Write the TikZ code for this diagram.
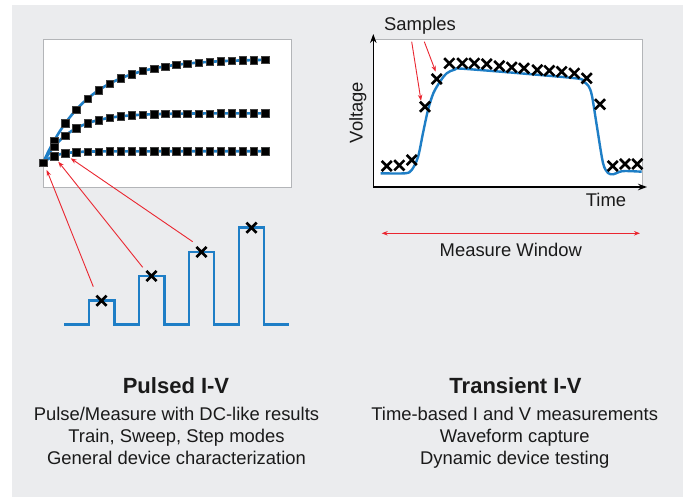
\documentclass[tikz,border=0pt]{standalone}
\usepackage{fontspec}
\setmainfont{Liberation Sans}
\usetikzlibrary{arrows.meta,shapes.misc}
\definecolor{panel}{HTML}{EBECEE}
\definecolor{frame}{HTML}{B3B5B8}
\definecolor{trace}{HTML}{1E7EC6}
\definecolor{pointer}{HTML}{EA2630}
\definecolor{ink}{HTML}{1A1A1A}
\begin{document}
\begin{tikzpicture}[x=1pt,y=-1pt,
  plotframe/.style={draw=frame, line width=1pt, fill=white},
  curve/.style={trace, line width=2.6pt, line join=round},
  sqmark/.style={rectangle, fill=black, draw=black!75, line width=0.4pt, minimum size=7.4pt, inner sep=0pt},
  xmark/.style={cross out, draw=black, line width=2.6pt, minimum size=7.6pt, inner sep=0pt},
  redarrow/.style={pointer, line width=0.9pt, -{Stealth[length=6pt,width=4.5pt]}},
  axis/.style={black, line width=1.3pt, line cap=rect, -{Stealth[length=9pt,width=6.5pt]}},
  label/.style={ink, font=\fontsize{18.4}{22}\selectfont, inner sep=0pt, anchor=base},
  title/.style={label, font=\fontsize{22}{26}\selectfont\bfseries}]

% page and grey panel
\fill[white] (0,0) rectangle (687,497);
\fill[panel] (12,5) rectangle (683,497);
\useasboundingbox (0,0) rectangle (687,497);

% ---------- Pulsed I-V: output curves ----------
\draw[plotframe] (43,40) rectangle (291,187);
\foreach \A/\k in {104/0.24, 49.7/0.4, 11.7/0.9}
  \draw[curve] plot[smooth, domain=0:20, samples=61]
    ({43+11.1*\x},{163-\A*(1-exp(-\k*\x))});
\foreach \A/\k/\c in {104/0.24/a, 49.7/0.4/b, 11.7/0.9/c}
  \foreach \i in {0,...,20} {
    \pgfmathsetmacro{\mx}{43+11.1*\i}
    \pgfmathsetmacro{\my}{163-\A*(1-exp(-\k*\i))}
    \node[sqmark] (\c\i) at (\mx,\my) {};
  }

% pulse train
\draw[curve, line join=miter] (64,324.3) -- (89,324.3) -- (89,300.7) -- (114.3,300.7)
  -- (114.3,324.3) -- (139,324.3) -- (139,276) -- (164.3,276) -- (164.3,324.3)
  -- (189,324.3) -- (189,252) -- (214,252) -- (214,324.3) -- (239,324.3)
  -- (239,227.7) -- (264,227.7) -- (264,324.3) -- (289,324.3);
\node[xmark] (p1) at (101.5,300.7) {};
\node[xmark] (p2) at (151.5,276) {};
\node[xmark] (p3) at (201.5,252) {};
\node[xmark] (p4) at (251.5,227.7) {};

% pointers from pulses to measured points
\coordinate (t1) at (93.3,286.7);  \coordinate (h1) at (46.7,170);
\coordinate (t2) at (142.7,267.3); \coordinate (h2) at (58.3,161.7);
\coordinate (t3) at (192.7,241.7); \coordinate (h3) at (70.7,158.3);
\draw[redarrow] (t1) -- (h1);
\draw[redarrow] (t2) -- (h2);
\draw[redarrow] (t3) -- (h3);

% ---------- Transient I-V: sampled waveform ----------
\draw[plotframe] (373,40) rectangle (642,187);
\coordinate (o) at (373.3,187);
\coordinate (ytip) at (373.3,34);
\coordinate (xtip) at (647,187);
\draw[axis] (o) -- (ytip);
\draw[axis] (o) -- (xtip);

\draw[curve, line width=2.4pt] plot[smooth, tension=0.5] coordinates {
  (380.7,173.3) (405,173.3) (411.7,170) (418,157) (423,133) (428,110)
  (433.3,93.3) (440,81.7) (446.7,73.3) (455,69.5) (466.7,69) (573,78)
  (583,81.5) (588.5,86) (592,96) (597,127) (603,163) (608,173)
  (613.3,174.3) (619,172) (625,171) (641.7,171.7)};

\foreach \px/\py [count=\i] in {386.7/166, 399.3/165.3, 411.7/160, 425/106.7,
    436.7/79, 449.3/63.3, 462.3/63.3, 474.3/63.3, 486.7/64, 499.3/66,
    511.7/67.3, 524/68.3, 537.3/70, 549.3/70.7, 561.7/71.7, 574.3/73.3,
    586.7/78.3, 600/104.3, 612.7/166, 625/164, 637.3/164}
  \node[xmark] (s\i) at (\px,\py) {};

\node[label] (samples) at (420,30.7) {Samples};
\coordinate (a1) at (411.7,41.7); \coordinate (b1) at (421,100.7);
\coordinate (a2) at (424.3,41.7); \coordinate (b2) at (435.7,71.7);
\draw[redarrow] (a1) -- (b1);
\draw[redarrow] (a2) -- (b2);

\node[label, rotate=90] (volt) at (362.5,112.5) {Voltage};
\node[label] (time) at (606,206.7) {Time};

% measure window
\coordinate (mwl) at (381.7,233.3);
\coordinate (mwr) at (640,233.3);
\draw[pointer, line width=0.9pt, {Stealth[length=6pt,width=4.5pt]}-{Stealth[length=6pt,width=4.5pt]}] (mwl) -- (mwr);
\node[label] (mw) at (510.8,256.7) {Measure Window};

% ---------- captions ----------
\node[title] (lt) at (176,393.3) {Pulsed I-V};
\node[label] (l1) at (176.5,420) {Pulse/Measure with DC-like results};
\node[label] (l2) at (176.5,442) {Train, Sweep, Step modes};
\node[label] (l3) at (176.5,464) {General device characterization};

\node[title] (rt) at (515.5,393.3) {Transient I-V};
\node[label] (r1) at (514.7,420) {Time-based I and V measurements};
\node[label] (r2) at (514.7,442) {Waveform capture};
\node[label] (r3) at (514.7,464) {Dynamic device testing};
\end{tikzpicture}
\end{document}
